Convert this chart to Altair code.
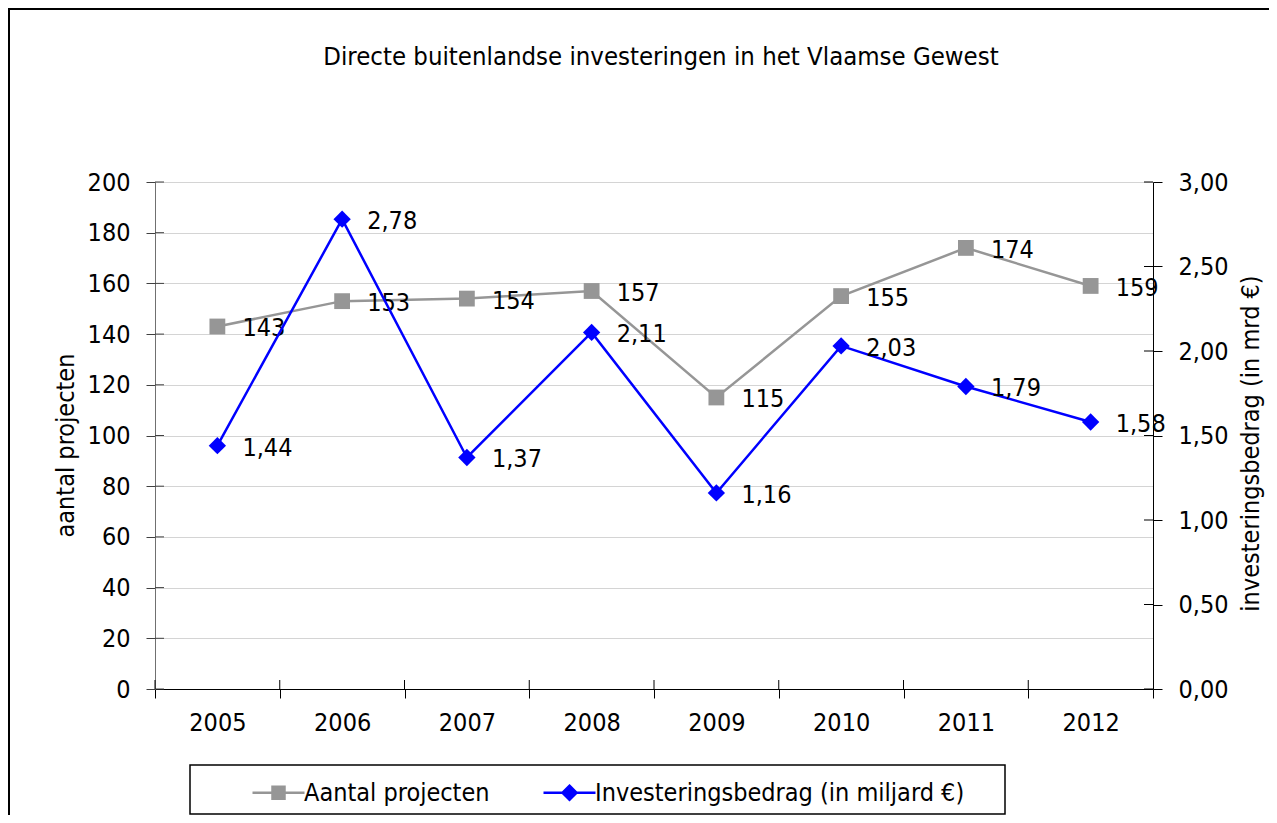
import altair as alt
import pandas as pd

years = ["2005", "2006", "2007", "2008", "2009", "2010", "2011", "2012"]
projects = [143, 153, 154, 157, 115, 155, 174, 159]
invest = [1.44, 2.78, 1.37, 2.11, 1.16, 2.03, 1.79, 1.58]
series_names = ["Aantal projecten", "Investeringsbedrag (in miljard €)"]
left_ticks = [0, 20, 40, 60, 80, 100, 120, 140, 160, 180, 200]
right_ticks = [0, 0.5, 1.0, 1.5, 2.0, 2.5, 3.0]

df = pd.DataFrame({"year": years, "projects": projects, "invest": invest})
df["proj_label"] = [str(v) for v in projects]
df["inv_label"] = [f"{v:.2f}".replace(".", ",") for v in invest]

FONT = "DejaVu Sans Condensed"
FS = 25
GRAY = "#969696"
BLUE = "#0000ff"
W, H = 998, 507
TK = 9
HALF_BAND = W / len(years) / 2

xscale = alt.Scale(type="band", paddingInner=0, paddingOuter=0)
xenc = alt.X(
    "year:O",
    scale=xscale,
    bandPosition=0.5,
    axis=alt.Axis(
        title=None, labelAngle=0, tickBand="extent", bandPosition=0.5,
        domainColor="black", tickColor="black", tickSize=TK, labelPadding=12,
        labelFontSize=FS, labelFont=FONT, labelColor="black", grid=False,
    ),
)

yL = alt.Y(
    "projects:Q",
    scale=alt.Scale(domain=[0, 200]),
    axis=alt.Axis(
        title="aantal projecten", values=left_ticks, grid=True,
        gridColor="#d4d4d4", domainColor="#707070", tickColor="#404040",
        tickSize=TK, labelPadding=16, labelFontSize=FS, labelFont=FONT,
        labelColor="black", titleFontSize=FS, titleFont=FONT,
        titleFontWeight="normal", titleColor="black",
        titleX=-90, titleY=263, titleAlign="center", titleBaseline="middle",
        titleAngle=270,
    ),
)

yR = alt.Y(
    "invest:Q",
    scale=alt.Scale(domain=[0, 3]),
    axis=alt.Axis(
        orient="right", title="investeringsbedrag (in mrd €)", values=right_ticks,
        labelExpr="replace(format(datum.value, '.2f'), '.', ',')",
        grid=False, domainColor="black", tickColor="black", tickSize=TK,
        labelPadding=16, labelFontSize=FS, labelFont=FONT, labelColor="black",
        titleFontSize=FS, titleFont=FONT, titleFontWeight="normal",
        titleColor="black", titleAngle=270, titleX=97, titleY=261,
        titleAlign="center", titleBaseline="middle",
    ),
)

base = alt.Chart(df)
lt_df = pd.DataFrame({"projects": left_ticks})
rt_df = pd.DataFrame({"invest": right_ticks})

left = alt.layer(
    alt.Chart(lt_df).mark_rule(color="#404040", strokeWidth=1).encode(
        y=yL, x=alt.value(0), x2=alt.value(TK)),
    base.mark_line(color=GRAY, strokeWidth=2.5).encode(x=xenc, y=yL),
    base.mark_point(shape="square", filled=True, color=GRAY, size=250, opacity=1).encode(x=xenc, y=yL),
    base.mark_text(align="left", baseline="middle", dx=25, dy=2, fontSize=FS, font=FONT, color="black").encode(
        x=xenc, y=yL, text="proj_label:N"),
    base.mark_rule(color="black", strokeWidth=1, xOffset=-HALF_BAND).encode(
        x=xenc, y=alt.value(H - TK), y2=alt.value(H)),
)

right = alt.layer(
    alt.Chart(rt_df).mark_rule(color="black", strokeWidth=1).encode(
        y=yR, x=alt.value(W - TK), x2=alt.value(W)),
    base.mark_line(color=BLUE, strokeWidth=2.5).encode(x=xenc, y=yR),
    base.mark_point(shape="diamond", filled=True, color=BLUE, size=300, opacity=1).encode(x=xenc, y=yR),
    base.mark_text(align="left", baseline="middle", dx=25, dy=2, fontSize=FS, font=FONT, color="black").encode(
        x=xenc, y=yR, text="inv_label:N"),
)

# legend-only layer (no data rows; the legend comes from the explicit domain)
leg_df = pd.DataFrame({"series": series_names})
legend_common = dict(
    title=None, orient="none", legendX=95, legendY=598, direction="horizontal",
    padding=0, labelFontSize=FS, labelFont=FONT, labelColor="black",
    symbolSize=400, symbolStrokeWidth=2.5, symbolOffset=16,
    columnPadding=48, labelOffset=13, labelLimit=0,
)
sq_path = "M-2.6,0H2.6M-0.6,-0.6H0.6V0.6H-0.6Z"
dm_path = "M-2.6,0H2.6M0,-0.7L0.7,0L0,0.7L-0.7,0Z"
legend_layer = alt.Chart(leg_df).mark_point(filled=True, opacity=1).encode(
    fill=alt.Fill("series:N", scale=alt.Scale(domain=series_names, range=[GRAY, BLUE]),
                  legend=alt.Legend(**legend_common)),
    stroke=alt.Stroke("series:N", scale=alt.Scale(domain=series_names, range=[GRAY, BLUE]),
                      legend=alt.Legend(**legend_common)),
    shape=alt.Shape("series:N", scale=alt.Scale(domain=series_names, range=[sq_path, dm_path]),
                    legend=alt.Legend(**legend_common)),
).transform_filter("false")

one = pd.DataFrame({"a": [0]})
border = alt.Chart(one).mark_rect(
    fill="white", fillOpacity=0, stroke="black", strokeWidth=2
).encode(x=alt.value(-146), x2=alt.value(1300), y=alt.value(-173), y2=alt.value(800))
legend_box = alt.Chart(one).mark_rect(
    fill="white", fillOpacity=0, stroke="black", strokeWidth=1.5
).encode(x=alt.value(35), x2=alt.value(850), y=alt.value(583), y2=alt.value(632))

chart = alt.layer(border, legend_box, left, right, legend_layer).resolve_scale(y="independent").properties(
    width=W, height=H,
    title=alt.TitleParams(
        "Directe buitenlandse investeringen in het Vlaamse Gewest",
        fontSize=25.5, font=FONT, fontWeight="normal", color="black",
        anchor="middle", offset=-62, dx=7,
    ),
    autosize="none",
    padding={"left": 147, "top": 174, "right": 116, "bottom": 126},
).configure_view(stroke=None).configure(background="white")

chart.save("out.html", embed_options={"renderer": "svg", "actions": False})
